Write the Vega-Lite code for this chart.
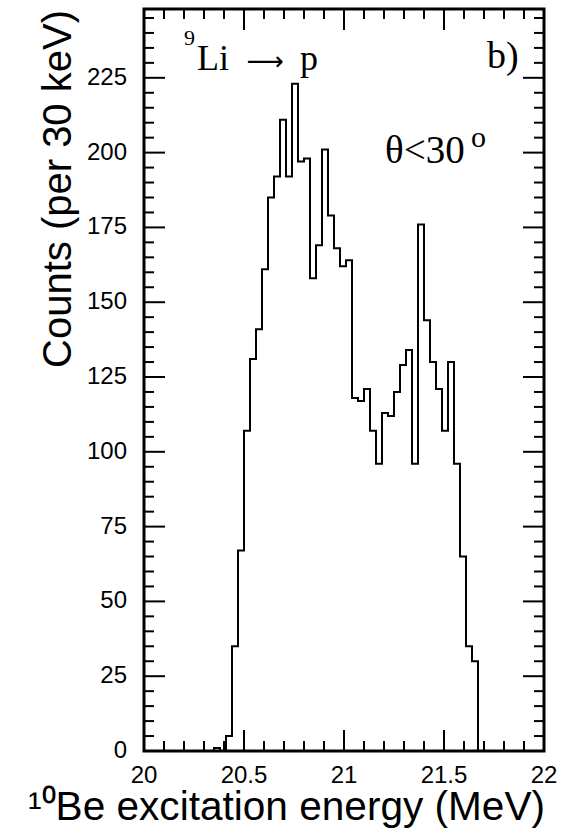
{
  "$schema": "https://vega.github.io/schema/vega-lite/v6.json",
  "width": 400,
  "height": 742,
  "autosize": "none",
  "padding": {"left": 144, "top": 9, "right": 24, "bottom": 79},
  "background": "white",
  "config": {
    "view": {"stroke": "black", "strokeWidth": 3}
  },
  "datasets": {
    "hist": [
      {"e": 20.32, "n": 0}, {"e": 20.35, "n": 1}, {"e": 20.38, "n": 0}, {"e": 20.41, "n": 5},
      {"e": 20.44, "n": 35}, {"e": 20.47, "n": 67}, {"e": 20.50, "n": 107}, {"e": 20.53, "n": 131},
      {"e": 20.56, "n": 141}, {"e": 20.59, "n": 161}, {"e": 20.62, "n": 185}, {"e": 20.65, "n": 192},
      {"e": 20.68, "n": 211}, {"e": 20.71, "n": 192}, {"e": 20.74, "n": 223}, {"e": 20.77, "n": 197},
      {"e": 20.80, "n": 198}, {"e": 20.83, "n": 158}, {"e": 20.86, "n": 169}, {"e": 20.89, "n": 201},
      {"e": 20.92, "n": 179}, {"e": 20.95, "n": 168}, {"e": 20.98, "n": 162}, {"e": 21.01, "n": 164},
      {"e": 21.04, "n": 118}, {"e": 21.07, "n": 117}, {"e": 21.10, "n": 121}, {"e": 21.13, "n": 107},
      {"e": 21.16, "n": 96}, {"e": 21.19, "n": 113}, {"e": 21.22, "n": 112}, {"e": 21.25, "n": 120},
      {"e": 21.28, "n": 129}, {"e": 21.31, "n": 134}, {"e": 21.34, "n": 96}, {"e": 21.37, "n": 176},
      {"e": 21.40, "n": 144}, {"e": 21.43, "n": 130}, {"e": 21.46, "n": 121}, {"e": 21.49, "n": 107},
      {"e": 21.52, "n": 130}, {"e": 21.55, "n": 96}, {"e": 21.58, "n": 65}, {"e": 21.61, "n": 35},
      {"e": 21.64, "n": 30}, {"e": 21.67, "n": 0}
    ],
    "xlab": [{"lv": 20, "t": "20"}, {"lv": 20.5, "t": "20.5"}, {"lv": 21, "t": "21"}, {"lv": 21.5, "t": "21.5"}, {"lv": 22, "t": "22"}],
    "ylab": [{"lv": 0, "t": "0"}, {"lv": 25, "t": "25"}, {"lv": 50, "t": "50"}, {"lv": 75, "t": "75"}, {"lv": 100, "t": "100"},
             {"lv": 125, "t": "125"}, {"lv": 150, "t": "150"}, {"lv": 175, "t": "175"}, {"lv": 200, "t": "200"}, {"lv": 225, "t": "225"}],
    "xmajor": [{"v": 20.5}, {"v": 21}, {"v": 21.5}],
    "xminor": [{"v": 20.1}, {"v": 20.2}, {"v": 20.3}, {"v": 20.4}, {"v": 20.6}, {"v": 20.7}, {"v": 20.8}, {"v": 20.9},
               {"v": 21.1}, {"v": 21.2}, {"v": 21.3}, {"v": 21.4}, {"v": 21.6}, {"v": 21.7}, {"v": 21.8}, {"v": 21.9}],
    "ymajor": [{"v": 25}, {"v": 50}, {"v": 75}, {"v": 100}, {"v": 125}, {"v": 150}, {"v": 175}, {"v": 200}, {"v": 225}],
    "yminor": [{"v": 5}, {"v": 10}, {"v": 15}, {"v": 20}, {"v": 30}, {"v": 35}, {"v": 40}, {"v": 45},
               {"v": 55}, {"v": 60}, {"v": 65}, {"v": 70}, {"v": 80}, {"v": 85}, {"v": 90}, {"v": 95},
               {"v": 105}, {"v": 110}, {"v": 115}, {"v": 120}, {"v": 130}, {"v": 135}, {"v": 140}, {"v": 145},
               {"v": 155}, {"v": 160}, {"v": 165}, {"v": 170}, {"v": 180}, {"v": 185}, {"v": 190}, {"v": 195},
               {"v": 205}, {"v": 210}, {"v": 215}, {"v": 220}, {"v": 230}, {"v": 235}, {"v": 240}, {"v": 245}]
  },
  "layer": [
    {
      "data": {"name": "hist"},
      "mark": {"type": "line", "interpolate": "step-after", "color": "black", "strokeWidth": 2},
      "encoding": {
        "x": {"field": "e", "type": "quantitative", "scale": {"domain": [20, 22], "nice": false, "zero": false}, "axis": null},
        "y": {"field": "n", "type": "quantitative", "scale": {"domain": [0, 248], "nice": false, "zero": false}, "axis": null}
      }
    },
    {
      "data": {"name": "xmajor"},
      "mark": {"type": "tick", "orient": "vertical", "color": "black", "opacity": 1, "size": 21, "thickness": 2},
      "encoding": {
        "x": {"field": "v", "type": "quantitative", "axis": null},
        "y": {"datum": 3.51, "type": "quantitative", "axis": null}
      }
    },
    {
      "data": {"name": "xmajor"},
      "mark": {"type": "tick", "orient": "vertical", "color": "black", "opacity": 1, "size": 21, "thickness": 2},
      "encoding": {
        "x": {"field": "v", "type": "quantitative", "axis": null},
        "y": {"datum": 244.49, "type": "quantitative", "axis": null}
      }
    },
    {
      "data": {"name": "xminor"},
      "mark": {"type": "tick", "orient": "vertical", "color": "black", "opacity": 1, "size": 10, "thickness": 2},
      "encoding": {
        "x": {"field": "v", "type": "quantitative", "axis": null},
        "y": {"datum": 1.67, "type": "quantitative", "axis": null}
      }
    },
    {
      "data": {"name": "xminor"},
      "mark": {"type": "tick", "orient": "vertical", "color": "black", "opacity": 1, "size": 10, "thickness": 2},
      "encoding": {
        "x": {"field": "v", "type": "quantitative", "axis": null},
        "y": {"datum": 246.33, "type": "quantitative", "axis": null}
      }
    },
    {
      "data": {"name": "ymajor"},
      "mark": {"type": "tick", "orient": "horizontal", "color": "black", "opacity": 1, "size": 21, "thickness": 2},
      "encoding": {
        "y": {"field": "v", "type": "quantitative", "axis": null},
        "x": {"datum": 20.0525, "type": "quantitative", "axis": null}
      }
    },
    {
      "data": {"name": "ymajor"},
      "mark": {"type": "tick", "orient": "horizontal", "color": "black", "opacity": 1, "size": 21, "thickness": 2},
      "encoding": {
        "y": {"field": "v", "type": "quantitative", "axis": null},
        "x": {"datum": 21.9475, "type": "quantitative", "axis": null}
      }
    },
    {
      "data": {"name": "yminor"},
      "mark": {"type": "tick", "orient": "horizontal", "color": "black", "opacity": 1, "size": 10, "thickness": 2},
      "encoding": {
        "y": {"field": "v", "type": "quantitative", "axis": null},
        "x": {"datum": 20.025, "type": "quantitative", "axis": null}
      }
    },
    {
      "data": {"name": "yminor"},
      "mark": {"type": "tick", "orient": "horizontal", "color": "black", "opacity": 1, "size": 10, "thickness": 2},
      "encoding": {
        "y": {"field": "v", "type": "quantitative", "axis": null},
        "x": {"datum": 21.975, "type": "quantitative", "axis": null}
      }
    },
    {
      "data": {"name": "xlab"},
      "mark": {"type": "text", "font": "Liberation Sans", "fontSize": 24, "align": "center", "baseline": "alphabetic", "color": "black"},
      "encoding": {
        "x": {"field": "lv", "type": "quantitative", "axis": null},
        "y": {"datum": -10.8, "type": "quantitative", "axis": null},
        "text": {"field": "t"}
      }
    },
    {
      "data": {"name": "ylab"},
      "mark": {"type": "text", "font": "Liberation Sans", "fontSize": 24, "align": "right", "baseline": "middle", "color": "black"},
      "encoding": {
        "x": {"datum": 19.915, "type": "quantitative", "axis": null},
        "y": {"field": "lv", "type": "quantitative", "axis": null},
        "text": {"field": "t"}
      }
    },
    {
      "data": {"values": [{}]},
      "mark": {"type": "text", "font": "Liberation Sans", "fontSize": 40.6, "align": "right", "baseline": "alphabetic", "color": "black"},
      "encoding": {
        "x": {"datum": 22.005, "type": "quantitative", "axis": null},
        "y": {"datum": -23.06, "type": "quantitative", "axis": null},
        "text": {"value": "¹⁰Be excitation energy (MeV)"}
      }
    },
    {
      "data": {"values": [{}]},
      "mark": {"type": "text", "font": "Liberation Sans", "fontSize": 40, "align": "right", "baseline": "alphabetic", "angle": 270, "color": "black"},
      "encoding": {
        "x": {"datum": 19.635, "type": "quantitative", "axis": null},
        "y": {"datum": 247.66, "type": "quantitative", "axis": null},
        "text": {"value": "Counts (per 30 keV)"}
      }
    },
    {
      "data": {"values": [{}]},
      "mark": {"type": "text", "font": "Liberation Serif", "fontSize": 22, "align": "left", "baseline": "alphabetic", "color": "black"},
      "encoding": {
        "x": {"datum": 20.2, "type": "quantitative", "axis": null},
        "y": {"datum": 236, "type": "quantitative", "axis": null},
        "text": {"value": "9"}
      }
    },
    {
      "data": {"values": [{}]},
      "mark": {"type": "text", "font": "Liberation Serif", "fontSize": 36, "align": "left", "baseline": "alphabetic", "color": "black"},
      "encoding": {
        "x": {"datum": 20.265, "type": "quantitative", "axis": null},
        "y": {"datum": 227.6, "type": "quantitative", "axis": null},
        "text": {"value": "Li"}
      }
    },
    {
      "data": {"values": [{}]},
      "mark": {"type": "text", "font": "DejaVu Sans", "fontSize": 26, "align": "left", "baseline": "middle", "color": "black"},
      "encoding": {
        "x": {"datum": 20.513, "type": "quantitative", "axis": null},
        "y": {"datum": 230.4, "type": "quantitative", "axis": null},
        "text": {"value": "⟶"}
      }
    },
    {
      "data": {"values": [{}]},
      "mark": {"type": "text", "font": "Liberation Serif", "fontSize": 36, "align": "left", "baseline": "alphabetic", "color": "black"},
      "encoding": {
        "x": {"datum": 20.78, "type": "quantitative", "axis": null},
        "y": {"datum": 227.6, "type": "quantitative", "axis": null},
        "text": {"value": "p"}
      }
    },
    {
      "data": {"values": [{}]},
      "mark": {"type": "text", "font": "Liberation Serif", "fontSize": 38, "align": "left", "baseline": "alphabetic", "color": "black"},
      "encoding": {
        "x": {"datum": 21.715, "type": "quantitative", "axis": null},
        "y": {"datum": 228.2, "type": "quantitative", "axis": null},
        "text": {"value": "b)"}
      }
    },
    {
      "data": {"values": [{}]},
      "mark": {"type": "text", "font": "Liberation Serif", "fontSize": 39, "align": "left", "baseline": "alphabetic", "color": "black"},
      "encoding": {
        "x": {"datum": 21.205, "type": "quantitative", "axis": null},
        "y": {"datum": 196.5, "type": "quantitative", "axis": null},
        "text": {"value": "θ<30"}
      }
    },
    {
      "data": {"values": [{}]},
      "mark": {"type": "text", "font": "Liberation Serif", "fontSize": 30, "align": "left", "baseline": "alphabetic", "color": "black"},
      "encoding": {
        "x": {"datum": 21.635, "type": "quantitative", "axis": null},
        "y": {"datum": 201.9, "type": "quantitative", "axis": null},
        "text": {"value": "o"}
      }
    }
  ]
}
